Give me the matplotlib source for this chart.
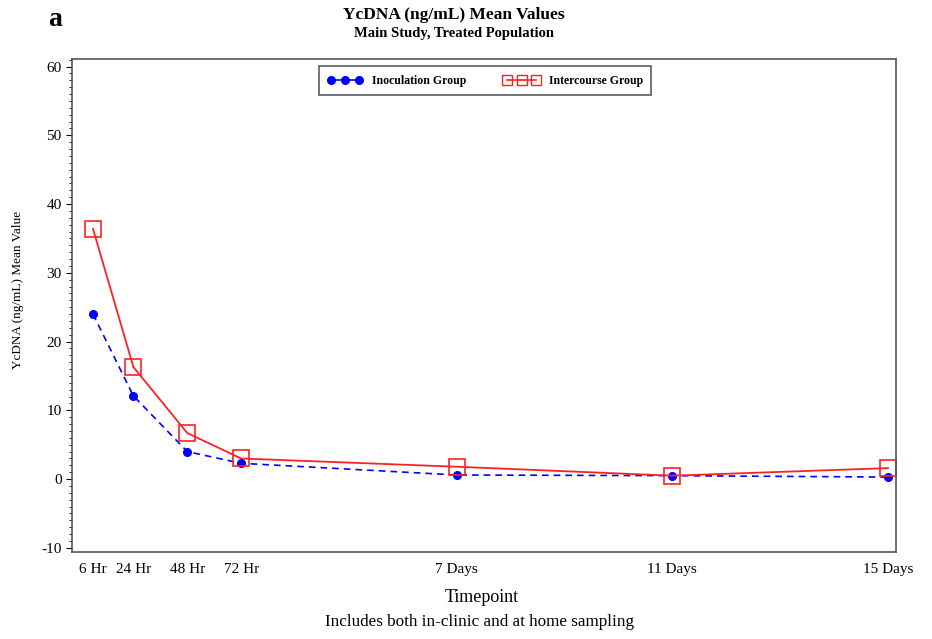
import matplotlib
matplotlib.use("Agg")
import matplotlib.pyplot as plt
from matplotlib.lines import Line2D
from matplotlib.ticker import MultipleLocator

plt.rcParams['font.family'] = ['Liberation Serif', 'DejaVu Serif']
plt.rcParams['axes.unicode_minus'] = False

hours = [6, 24, 48, 72, 168, 264, 360]
tick_labels = ["6 Hr", "24 Hr", "48 Hr", "72 Hr", "7 Days", "11 Days", "15 Days"]
inoculation = [24.0, 12.1, 4.0, 2.3, 0.6, 0.5, 0.3]
intercourse = [36.4, 16.3, 6.7, 3.0, 1.8, 0.5, 1.6]
series_names = ['Inoculation Group', 'Intercourse Group']

W, H = 932, 639
fig = plt.figure(figsize=(W / 100, H / 100), dpi=100)
ax = fig.add_axes([72 / W, 1 - 552 / H, (896 - 72) / W, (552 - 59) / H])

ax.plot(hours, inoculation, color='blue', linestyle=(0, (4, 3)), linewidth=1.2,
        marker='o', markersize=5.5, markerfacecolor='blue', markeredgecolor='blue')
ax.plot(hours, intercourse, color='#ff2020', linestyle='-', linewidth=1.3,
        marker='s', markersize=12, markerfacecolor='none', markeredgecolor='#ff2020',
        markeredgewidth=1.2)

ax.set_xlim(-3.35, 363.6)
ax.set_ylim(-10.6, 61.1)
ax.set_xticks(hours)
ax.set_xticklabels(tick_labels, fontsize=11)
ax.tick_params(axis='x', length=0, pad=8)
ax.yaxis.set_major_locator(MultipleLocator(10))
ax.yaxis.set_minor_locator(MultipleLocator(1))
ax.tick_params(axis='y', which='major', length=4, labelsize=11)
ax.tick_params(axis='y', which='minor', length=2)
for s in ax.spines.values():
    s.set_color('#555555')
    s.set_linewidth(1.2)

handles = [
    Line2D([], [], color='blue', linestyle='-', linewidth=1.2, marker='o',
           markersize=5.5, markerfacecolor='blue', markeredgecolor='blue'),
    Line2D([], [], color='#ff2020', linestyle='-', linewidth=1.2, marker='s',
           markersize=7, markerfacecolor='none', markeredgecolor='#ff2020',
           markeredgewidth=1.0),
]
leg = ax.legend(handles, series_names, loc='upper center',
                bbox_to_anchor=((485 - 72) / (896 - 72), 0.985),
                ncol=2, frameon=True, fancybox=False, numpoints=3,
                prop={'weight': 'bold', 'size': 8.5}, edgecolor='#333333',
                handlelength=3.0, columnspacing=3.2, borderaxespad=0.0,
                borderpad=0.7)
leg.get_frame().set_linewidth(1.2)

fig.text(55 / W, 1 - 19 / H, 'a', fontsize=20, fontweight='bold', ha='center', va='center')
fig.text(454 / W, 1 - 15 / H, 'YcDNA (ng/mL) Mean Values', fontsize=12.5, fontweight='bold', ha='center', va='center')
fig.text(454 / W, 1 - 33 / H, 'Main Study, Treated Population', fontsize=10.5, fontweight='bold', ha='center', va='center')
fig.text(482 / W, 1 - 597 / H, 'Timepoint', fontsize=13, ha='center', va='center')
fig.text(480 / W, 1 - 622 / H, 'Includes both in-clinic and at home sampling', fontsize=12.3, ha='center', va='center')
fig.text(18 / W, 1 - 290 / H, 'YcDNA (ng/mL) Mean Value', fontsize=9.5, rotation=90, ha='center', va='center')

fig.savefig('out.png', dpi=100)
